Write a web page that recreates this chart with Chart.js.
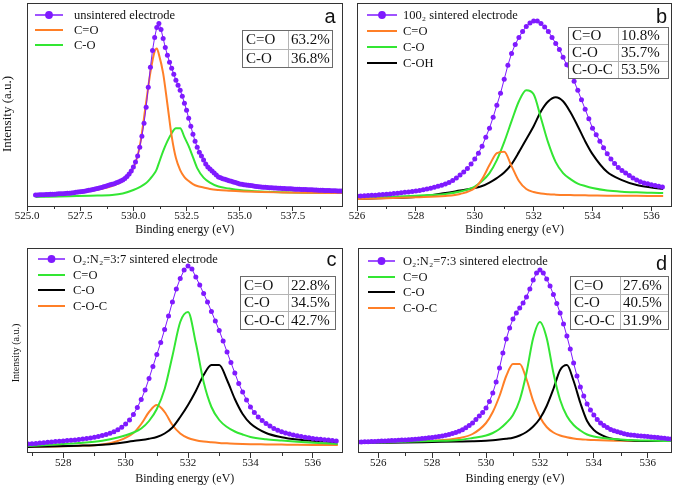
<!DOCTYPE html>
<html><head><meta charset="utf-8">
<script src="https://cdn.jsdelivr.net/npm/chart.js@4.4.1/dist/chart.umd.min.js"></script>
<style>
html,body{margin:0;padding:0;background:#fff;}
#wrap{position:relative;width:675px;height:488px;overflow:hidden;background:#fff;}
canvas{position:absolute;display:block;}
</style></head><body>
<div id="wrap">
<canvas id="pa" width="345" height="240" style="left:0px;top:0px;width:345px;height:240px"></canvas>
<canvas id="pb" width="330" height="240" style="left:345px;top:0px;width:330px;height:240px"></canvas>
<canvas id="pc" width="345" height="248" style="left:0px;top:240px;width:345px;height:248px"></canvas>
<canvas id="pd" width="330" height="248" style="left:345px;top:240px;width:330px;height:248px"></canvas>
</div>
<script>
// ---------------- DATA ----------------
// Panel a (unsintered electrode)
const envStartA = 525.4, envStepA = 0.1;
const envelopeA = [11.0,11.1,11.2,11.3,11.4,11.5,11.6,11.7,11.8,11.9,
12.0,12.2,12.3,12.4,12.6,12.7,12.9,13.1,13.4,13.7,
14.0,14.3,14.6,14.9,15.3,15.7,16.1,16.5,17.0,17.5,
18.0,18.6,19.2,19.9,20.6,21.2,21.7,22.4,23.2,24.0,
25.0,26.0,27.5,29.5,32,35,39,44,50,59,
70,83,99,119,139,156,169,179,183,177,
168,159,151,144,138,132,126,121,116,110,
103,96,88,80,72,65,59,54,50,46,
42,39,37,35,33,31,29,28.2,27.4,26.7,
26.0,25.3,24.7,24.1,23.5,22.7,22.0,21.7,21.4,21.1,
20.8,20.5,20.2,19.9,19.6,19.3,19.0,18.9,18.7,18.6,
18.4,18.3,18.1,18.0,17.9,17.8,17.6,17.5,17.4,17.3,
17.2,17.0,16.9,16.8,16.7,16.6,16.5,16.5,16.4,16.3,
16.2,16.1,16.0,15.9,15.8,15.7,15.6,15.5,15.5,15.4,
15.3,15.2,15.1,15.1,15.0];
const compEnergyA = [525.4,526,527,528,529,529.5,530,530.3,530.6,530.8,531.0,531.1,531.2,531.4,531.6,531.8,532.0,532.2,532.4,532.6,532.8,533.0,533.3,533.6,534,534.5,535,536,537,538,539.8];
const cEqOA = [11,11.5,12.8,15,20,25,38,60,104,134,155,158,152,133,102,70,48,36,29,25,22,20,18.5,17,16,15.3,14.7,14,13.6,13.3,13];
const cOA   = [9,9.3,9.8,10.3,11,12.5,16,19,23,27.5,33,37,43,55,65,73,78,78,69,60,49,38,28.5,23.5,19.5,17.5,16,14.5,13.8,13.4,13];
const ticksA = {min:525.0, max:539.83, step:2.5};
const namesA = ['unsintered electrode','C=O','C-O'];
const tableLabelsA = ['C=O','C-O'];
const tableValuesA = ['63.2%','36.8%'];

// Panel b (100₂ sintered electrode)
const envStartB = 526.0, envStepB = 0.125;
const envelopeB = [10.0,10.1,10.3,10.5,10.7,10.9,11.2,11.5,11.8,12.1,
12.5,12.9,13.3,13.7,14.1,14.5,15.0,15.6,16.3,17.0,
17.8,18.7,19.7,20.8,22.0,23.5,25.5,28,31,34,
37.5,42,47,53,60,69,78,89,101,113,
127,141,153,162,169,175,180,183.5,185.5,185.5,
183,179.5,175,169,163,157,149,141.5,133.5,125,
116,106.5,97,87.5,78,71.5,65,58.5,52.5,47,
42.5,38.5,35.5,33,30.5,28,26,24.3,23,22.2,
21.3,20.6,19.8,19.0];
const compEnergyB = [526,527,528,529,529.5,530,530.25,530.5,530.75,531,531.25,531.5,531.75,532,532.25,532.5,532.75,533,533.25,533.5,533.75,534,534.5,535,535.5,536,536.4];
const cEqOB = [7,7.8,8.7,10,12,18,27,41,53,54.5,40,25,17,14,12.5,11.8,11.4,11.1,11,10.8,10.7,10.6,10.4,10.3,10.2,10.1,10];
const cOB   = [8,9,10.3,12,14.5,19.5,25,33,46,64,85,105,116,112,88,63,44,33,27,22.5,20,18,15.5,14.3,13.7,13.3,13];
const cOHB  = [7,8,9,13,15.5,18,20,23.5,28,33.5,42,54,67,80,95,105,109,105,94,80,65,52,34,26,21,18.5,17];
const ticksB = {min:526, max:536.7, step:2};
const namesB = ['100\u2082 sintered electrode','C=O','C-O','C-OH'];
const tableLabelsB = ['C=O','C-O','C-O-C'];
const tableValuesB = ['10.8%','35.7%','53.5%'];

// Panel c (O₂:N₂=3:7 sintered electrode)
const envStartC = 526.875, envStepC = 0.125;
const envelopeC = [9.0,9.3,9.6,9.9,10.3,10.7,11.1,11.5,11.8,12.1,
12.4,12.7,13.1,13.5,14.0,14.5,15.1,15.8,16.6,17.5,
18.6,19.8,21.3,23.2,25.7,29,33,38.5,45.5,53.5,
63,74.5,86.5,98.5,110.5,123.5,137,151,164,174.5,
183,187,184,176,168,159.5,151,141.5,132,122.5,
112,101,90.5,80,69.5,61,53,46,40.5,36,
32.5,29.5,27,24.5,22.7,21.3,20.1,19,18,17.2,
16.5,15.8,15.2,14.6,14.1,13.7,13.3,12.9,12.5,12.1];
const compEnergyC = [526.85,527.5,528.5,529.25,529.75,530.25,530.5,530.75,531,531.25,531.5,531.75,532,532.25,532.5,532.75,533,533.25,533.5,533.75,534,534.5,535,535.5,536,536.8];
const cEqOC  = [7,8,10,12.3,15.5,20.5,24.5,32,44,64,97,131,141,110,71,46,33,26,21.5,18.5,16,13.8,12.5,11.3,10.3,9];
const cOC    = [6,6.5,7.3,8.3,9.8,12,13,14.3,16,19.5,25.5,36,48,62,78,88,88,73,54,39,29.5,20,15.8,13.5,12.2,11];
const cOCC   = [6,6.4,7.2,8.5,12,20,29,41,48,41,28,19.5,15,12.8,11.5,10.7,10.1,9.7,9.3,9,8.8,8.6,8.4,8.2,8.1,8];
const ticksC = {min:526.84, max:536.95, step:2};
const namesC = ['O\u2082:N\u2082=3:7 sintered electrode','C=O','C-O','C-O-C'];
const tableLabelsC = ['C=O','C-O','C-O-C'];
const tableValuesC = ['22.8%','34.5%','42.7%'];

// Panel d (O₂:N₂=7:3 sintered electrode)
const envStartD = 525.25, envStepD = 0.125;
const envelopeD = [11.0,11.1,11.2,11.3,11.4,11.5,11.7,11.9,12.0,12.2,
12.4,12.5,12.7,12.9,13.1,13.3,13.6,13.8,14.1,14.4,
14.8,15.2,15.6,16.1,16.6,17.1,17.8,18.5,19.4,20.5,
21.8,23.3,25.2,27.5,30,33.5,37,40.5,45,51.5,
60,71,85,100,114,125,134,140,145,150,
156,164,173,180,183,180,174,167,158.5,149.5,
140,129,117,104,90,77,66,57,49,43,
38,33.5,30,27.5,25.5,23.5,22.3,21.2,20.2,19.3,
18.6,18.1,17.7,17.3,17.0,16.7,16.4,16.1,15.8,15.5,
15.1,14.7,14.3,14.0];
const compEnergyD = [525.25,526,527,528,529,529.5,530,530.25,530.5,530.75,531,531.25,531.5,531.75,532,532.25,532.5,532.75,533,533.25,533.5,533.75,534,534.5,535,535.5,536,536.9];
const cEqOD = [10,10.5,11.2,12,13,15,17.5,20,24,30,38,53,80,115,131,115,80,53,37,28,22.5,18.5,16.5,14.5,13.5,12.8,12.4,12];
const cOD   = [10,10.2,10.5,11,11.5,11.8,12.3,12.8,13.5,14.3,15.3,17.5,21,26.5,34.5,47,64,83,88,72,50,32,23,15.5,13,12.3,12,12];
const cOCD  = [10,10.5,11.2,12.2,15,19,30,41,57,77,89,89,74,52,36,26,20.5,17.5,15.8,14.6,13.8,13.3,12.9,12.4,12.2,12.1,12,12];
const ticksD = {min:525.25, max:536.9, step:2};
const namesD = ['O\u2082:N\u2082=7:3 sintered electrode','C=O','C-O','C-O-C'];
const tableLabelsD = ['C=O','C-O','C-O-C'];
const tableValuesD = ['27.6%','40.5%','31.9%'];

// ---------------- STYLE ----------------
const SERIF = "'Liberation Serif','Times New Roman',serif";
const SANS = "'Liberation Sans',Arial,sans-serif";
const PURPLE = '#7F1AFF', ORANGE = '#FF7F27', GREEN = '#33E633', BLACK = '#000000';
const AXIS = '#333333';

function energyGrid(start, step, n){ return Array.from({length:n}, (_, i) => +(start + i*step).toFixed(4)); }

const framePlugin = {
  id:'frame',
  afterDraw(chart){
    const ctx = chart.ctx, ca = chart.chartArea;
    ctx.save(); ctx.strokeStyle = AXIS; ctx.lineWidth = 1;
    ctx.strokeRect(Math.round(ca.left)+0.5, Math.round(ca.top)+0.5, Math.round(ca.right-ca.left)-1, Math.round(ca.bottom-ca.top)-1);
    ctx.restore();
  }
};
const minorTickPlugin = {
  id:'minorTicks',
  afterDraw(chart){
    const s = chart.scales.x, ctx = chart.ctx, ca = chart.chartArea;
    const vals = s.ticks.map(t => t.value);
    if (vals.length < 2) return;
    const step = vals[1] - vals[0];
    ctx.save(); ctx.strokeStyle = AXIS; ctx.lineWidth = 1;
    for (let v = vals[0] - step/2; v <= s.max; v += step){
      if (v < s.min) continue;
      const px = Math.round(s.getPixelForValue(v)) + 0.5;
      ctx.beginPath(); ctx.moveTo(px, ca.bottom); ctx.lineTo(px, ca.bottom + 3); ctx.stroke();
    }
    ctx.restore();
  }
};
function legendPlugin(p){
  return {
    id:'insideLegend',
    afterDraw(chart){
      const ctx = chart.ctx, ca = chart.chartArea, L = p.leg;
      ctx.save();
      ctx.font = '12.5px ' + SERIF; ctx.textBaseline = 'middle'; ctx.textAlign = 'left';
      chart.data.datasets.forEach((ds, i) => {
        const y = Math.round(ca.top + L.first + i*L.gap);
        const x0 = ca.left + L.sym, x1 = x0 + L.symW;
        ctx.strokeStyle = ds.borderColor; ctx.lineWidth = i === 0 ? 1.5 : 2;
        ctx.beginPath(); ctx.moveTo(x0, y); ctx.lineTo(x1, y); ctx.stroke();
        if (i === 0){
          ctx.fillStyle = ds.borderColor; ctx.beginPath(); ctx.arc((x0 + x1)/2, y, 3.9, 0, Math.PI*2); ctx.fill();
        }
        ctx.fillStyle = '#111';
        ctx.fillText(ds.label, ca.left + L.text, y + 0.5);
      });
      ctx.restore();
    }
  };
}
function tablePlugin(p){
  return {
    id:'xpsTable',
    afterDraw(chart){
      const ctx = chart.ctx, ca = chart.chartArea, t = p.table;
      const w = t.cols[0] + t.cols[1], h = t.rowH * t.labels.length;
      const x0 = Math.round(ca.right - t.right - w), y0 = Math.round(ca.top + t.top);
      ctx.save();
      ctx.fillStyle = '#fff'; ctx.fillRect(x0, y0, w, h);
      ctx.strokeStyle = '#b4b4b4'; ctx.lineWidth = 1;
      ctx.beginPath();
      const xv = Math.round(x0 + t.cols[0]) + 0.5;
      ctx.moveTo(xv, y0); ctx.lineTo(xv, y0 + h);
      for (let i = 1; i < t.labels.length; i++){
        const yy = Math.round(y0 + t.rowH*i) + 0.5;
        ctx.moveTo(x0, yy); ctx.lineTo(x0 + w, yy);
      }
      ctx.stroke();
      ctx.strokeStyle = '#6a6a6a';
      ctx.strokeRect(x0 + 0.5, y0 + 0.5, Math.round(w), Math.round(h));
      ctx.fillStyle = '#111'; ctx.font = '15px ' + SERIF; ctx.textBaseline = 'middle'; ctx.textAlign = 'left';
      t.labels.forEach((lb, i) => {
        const yc = y0 + t.rowH*(i + 0.5) + 1;
        ctx.fillText(lb, x0 + 4, yc);
        ctx.fillText(t.values[i], x0 + t.cols[0] + 3, yc);
      });
      ctx.font = '20px ' + SANS; ctx.textAlign = 'right'; ctx.textBaseline = 'alphabetic';
      ctx.fillText(p.letter, ca.right - p.letterPos[0], ca.top + p.letterPos[1]);
      ctx.restore();
    }
  };
}

function makePanel(p){
  const datasets = [{
    label: p.names[0],
    data: p.envX.map((x, i) => ({x, y: p.env[i]})),
    borderColor: PURPLE, backgroundColor: PURPLE, borderWidth: 1,
    pointRadius: 2.5, pointBorderWidth: 0, pointBackgroundColor: PURPLE, pointHoverRadius: 2.5,
    tension: 0
  }];
  p.comps.forEach((ys, k) => datasets.push({
    label: p.names[k+1],
    data: p.compX.map((x, i) => ({x, y: ys[i]})),
    borderColor: p.colors[k+1], backgroundColor: p.colors[k+1], borderWidth: 2,
    pointRadius: 0, pointHoverRadius: 0, cubicInterpolationMode: 'monotone'
  }));
  new Chart(document.getElementById(p.id), {
    type: 'line',
    data: {datasets},
    options: {
      responsive: false, animation: false, devicePixelRatio: 1, events: [],
      layout: {padding: p.pad},
      scales: {
        x: {
          type: 'linear', min: p.ticks.min, max: p.ticks.max,
          afterFit(s){ s.height = p.xh; },
          ticks: {stepSize: p.ticks.step, includeBounds: false, padding: -1.5, autoSkip: false, maxRotation: 0,
                  font: {family: SERIF, size: 11}, color: '#111',
                  callback: v => p.decimals ? Number(v).toFixed(p.decimals) : String(v)},
          grid: {display: true, drawOnChartArea: false, drawTicks: true, tickLength: 5, color: AXIS, lineWidth: 1},
          border: {display: false},
          title: {display: true, text: 'Binding energy (eV)', font: {family: SERIF, size: 12}, color: '#111',
                  padding: {top: 0, bottom: p.xtp}}
        },
        y: {
          display: p.yTitle !== null, min: 0, max: p.ymax,
          afterFit(s){ s.width = p.yw; },
          ticks: {display: false}, grid: {display: false}, border: {display: false},
          title: {display: p.yTitle !== null, text: p.yTitle || '', font: {family: SERIF, size: p.ytf}, color: '#111',
                  padding: {top: p.ytp, bottom: 0}}
        }
      },
      plugins: {
        tooltip: {enabled: false},
        legend: {display: false}
      }
    },
    plugins: [framePlugin, minorTickPlugin, legendPlugin(p), tablePlugin(p)]
  });
}

const NB = '\u00a0';
makePanel({
  id: 'pa', names: namesA, colors: [PURPLE, ORANGE, GREEN],
  envX: energyGrid(envStartA, envStepA, envelopeA.length), env: envelopeA,
  compX: compEnergyA, comps: [cEqOA, cOA],
  ticks: ticksA, decimals: 1, ymax: 204,
  pad: {left: 0, top: 2, right: 2, bottom: 0}, xh: 34, xtp: 2.8,
  yTitle: 'Intensity (a.u.)' + NB.repeat(6), ytf: 13, ytp: 0, yw: 27,
  leg: {first: 12, gap: 15.3, sym: 8, symW: 28, text: 47},
  table: {labels: tableLabelsA, values: tableValuesA, cols: [46, 44], rowH: 18.5, right: 11, top: 27},
  letter: 'a', letterPos: [7, 20]
});
makePanel({
  id: 'pb', names: namesB, colors: [PURPLE, ORANGE, GREEN, BLACK],
  envX: energyGrid(envStartB, envStepB, envelopeB.length), env: envelopeB,
  compX: compEnergyB, comps: [cEqOB, cOB, cOHB],
  ticks: ticksB, decimals: 0, ymax: 204,
  pad: {left: 12, top: 2, right: 3, bottom: 0}, xh: 34, xtp: 2.8,
  yTitle: null, ytf: 12, ytp: 0, yw: 0,
  leg: {first: 12, gap: 16, sym: 10, symW: 30, text: 46},
  table: {labels: tableLabelsB, values: tableValuesB, cols: [50, 50], rowH: 17, right: 4, top: 24},
  letter: 'b', letterPos: [5, 20]
});
makePanel({
  id: 'pc', names: namesC, colors: [PURPLE, GREEN, BLACK, ORANGE],
  envX: energyGrid(envStartC, envStepC, envelopeC.length), env: envelopeC,
  compX: compEnergyC, comps: [cEqOC, cOC, cOCC],
  ticks: ticksC, decimals: 0, ymax: 205,
  pad: {left: 0, top: 8, right: 2, bottom: 0}, xh: 35, xtp: 1.8,
  yTitle: 'Intensity (a.u.)' + NB.repeat(2), ytf: 10, ytp: 10, yw: 27,
  leg: {first: 11, gap: 15.7, sym: 11, symW: 27, text: 46},
  table: {labels: tableLabelsC, values: tableValuesC, cols: [48, 47], rowH: 17.7, right: 8, top: 28},
  letter: 'c', letterPos: [6, 18]
});
makePanel({
  id: 'pd', names: namesD, colors: [PURPLE, GREEN, BLACK, ORANGE],
  envX: energyGrid(envStartD, envStepD, envelopeD.length), env: envelopeD,
  compX: compEnergyD, comps: [cEqOD, cOD, cOCD],
  ticks: ticksD, decimals: 0, ymax: 205,
  pad: {left: 13, top: 8, right: 3, bottom: 0}, xh: 35, xtp: 1.8,
  yTitle: null, ytf: 12, ytp: 0, yw: 0,
  leg: {first: 13, gap: 15.7, sym: 10, symW: 27, text: 45},
  table: {labels: tableLabelsD, values: tableValuesD, cols: [50, 48], rowH: 17.7, right: 4, top: 28},
  letter: 'd', letterPos: [5, 22]
});
</script>
</body></html>
